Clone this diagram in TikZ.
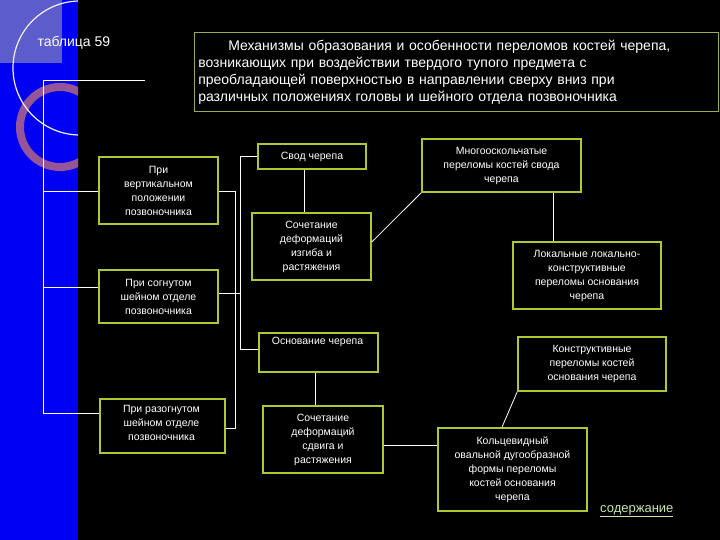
\documentclass[tikz,border=0pt]{standalone}
\usepackage{fontspec}
\setmainfont{Liberation Sans}
\definecolor{bx}{RGB}{175,200,45}
\definecolor{ringc}{RGB}{150,85,150}
\definecolor{lnk}{RGB}{200,230,170}
\begin{document}
\begin{tikzpicture}[x=1pt,y=-1pt,
  box/.style={draw=bx,line width=1.6pt,fill=black,text=white,align=center,inner sep=1pt,font=\fontsize{10.5}{14}\selectfont},
  ln/.style={draw=white,line width=0.8pt}]
\fill[black] (0,0) rectangle (720,540);
\useasboundingbox (0,0) rectangle (720,540);
\fill[blue!95!black] (0,0) rectangle (78,540);
\begin{scope}
\clip (0,0) rectangle (78,540);
\fill[blue!55!white!80!black] (0,0) rectangle (62,63);
\draw[ringc,line width=8pt] (60,127) circle (40);
\draw[white!90!gray,line width=1.2pt] (80,68) circle (67);
\end{scope}
\node[text=white,font=\fontsize{14}{16}\selectfont,anchor=west] (tab) at (34,43) {таблица 59};
\coordinate (t0) at (43,80); \coordinate (t1) at (145,80);
\node[draw=bx!60!gray,line width=0.6pt,minimum height=79,text width=516,align=left,text=white,font=\fontsize{14}{17}\selectfont,inner sep=4pt,anchor=north west] (title) at (194,32) {\hspace*{30pt}Механизмы образования и особенности переломов костей черепа,\\возникающих при воздействии твердого тупого предмета с\\преобладающей поверхностью в направлении сверху вниз при\\различных положениях головы и шейного отдела позвоночника};
\node[box,minimum width=119,minimum height=67] (v) at (158.5,190.5) {При\\вертикальном\\положении\\позвоночника};
\node[box,minimum width=119,minimum height=53] (s) at (158.5,296.5) {При согнутом\\шейном отделе\\позвоночника};
\node[box,minimum width=125,minimum height=54,anchor=north west] (r) at (99,398) {};
\node[text=white,align=center,font=\fontsize{10.5}{14}\selectfont,anchor=north,inner sep=0pt] (rt) at (161.5,405) {При разогнутом\\шейном отделе\\позвоночника};
\node[box,minimum width=108,minimum height=25] (svod) at (312,156.5) {Свод черепа};
\node[box,minimum width=119,minimum height=67] (izg) at (311.5,246.5) {Сочетание\\деформаций\\изгиба и\\растяжения};
\node[box,minimum width=119,minimum height=39,anchor=north west] (osn) at (258,332) {};
\node[text=white,font=\fontsize{10.5}{14}\selectfont,anchor=north,inner sep=0pt] (osnt) at (317.5,337) {Основание черепа};
\node[box,minimum width=120,minimum height=67] (sdv) at (323,439.5) {Сочетание\\деформаций\\сдвига и\\растяжения};
\node[box,minimum width=159,minimum height=53] (mno) at (501.5,165.5) {Многооскольчатые\\переломы костей свода\\черепа};
\node[box,minimum width=148,minimum height=67] (lok) at (587,275.5) {Локальные локально-\\конструктивные\\переломы основания\\черепа};
\node[box,minimum width=148,minimum height=54] (kon) at (592,364) {Конструктивные\\переломы костей\\основания черепа};
\node[box,minimum width=149,minimum height=83] (kol) at (512.5,469.5) {Кольцевидный\\овальной дугообразной\\формы переломы\\костей основания\\черепа};
\node[text=lnk,font=\fontsize{13}{15}\selectfont,anchor=west,inner sep=0pt] (cont) at (600,511) {\underline{содержание}};
% connectors
\coordinate (bb) at (43,413);
\draw[ln] (t1) -- (t0) -- (bb) -- (r.west|-bb);
\draw[ln] (43,191) -- (v.west|-0,191);
\draw[ln] (43,287) -- (s.west|-0,287);
\draw[ln] (v.east|-0,191) -- (235,191) -- (235,428) -- (r.east|-0,428);
\draw[ln] (s.east|-0,293) -- (240,293);
\draw[ln] (svod.west) -- (240,156.5) -- (240,349) -- (osn.west|-0,349);
\draw[ln] (svod.south-|304,0) -- (izg.north-|304,0);
\draw[ln] (osn.south-|315,0) -- (sdv.north-|315,0);
\draw[ln] (izg.east|-0,242) -- (mno.south west);
\draw[ln] (mno.south-|553,0) -- (lok.north-|553,0);
\draw[ln] (sdv.east|-0,445) -- (kol.west|-0,445);
\draw[ln] (kol.north-|502,0) -- (kon.south west);
\end{tikzpicture}
\end{document}
